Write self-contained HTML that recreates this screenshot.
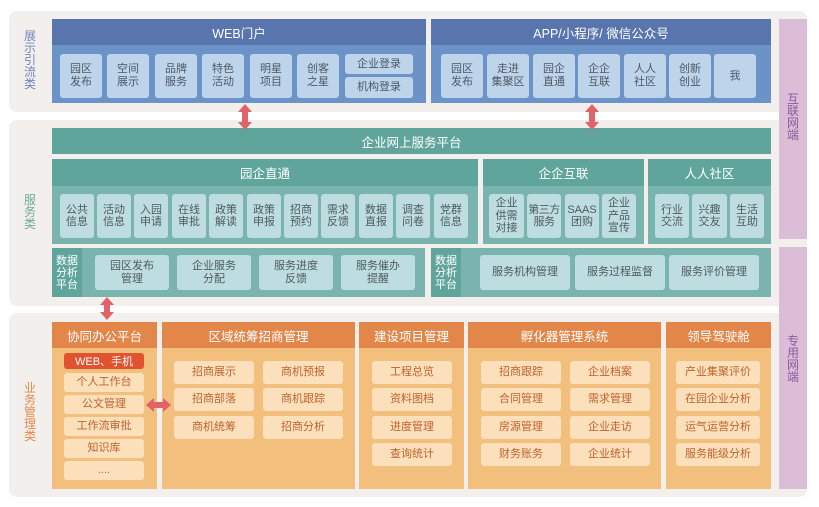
<!DOCTYPE html>
<html><head><meta charset="utf-8">
<style>
*{margin:0;padding:0;box-sizing:border-box}
html,body{width:819px;height:507px;background:#fff;overflow:hidden;font-family:"Liberation Sans","Noto Sans CJK SC",sans-serif}
.a{position:absolute}
.c{display:flex;align-items:center;justify-content:center;text-align:center}
.pn{background:#f2efec;border-radius:8px}
.bh{background:#5975ad;color:#fff;font-size:12.5px}
.bb{background:#6b93c7}
.bi{background:#bdd4ea;border-radius:3px;color:#4e5866;font-size:11px;line-height:13px}
.th{background:#5fa59b;color:#fff;font-size:12.5px}
.tb{background:#7ab4ae}
.ti{background:#bedde0;border-radius:3px;color:#4d5a5e;font-size:11px;line-height:12.5px}
.oh{background:#e2864a;color:#fff;font-size:12.5px}
.ob{background:#f2bf7d}
.oi{background:#fbe0bb;border-radius:3px;color:#c0622f;font-size:11px;line-height:13px}
.vl{width:16px;font-size:12px;line-height:12px;text-align:center}
.pu{background:#dcbdd7}
</style></head><body>

<!-- panels -->
<div class="a pn" style="left:9px;top:11px;width:798px;height:101px"></div>
<div class="a pn" style="left:9px;top:120px;width:798px;height:186px"></div>
<div class="a pn" style="left:9px;top:313px;width:798px;height:184px"></div>

<!-- purple bars -->
<div class="a pu" style="left:779px;top:19px;width:28px;height:220px"></div>
<div class="a pu" style="left:779px;top:247px;width:28px;height:242px"></div>
<div class="a vl" style="left:785px;top:93px;color:#8a5c98">互<br>联<br>网<br>端</div>
<div class="a vl" style="left:785px;top:335px;color:#8a5c98">专<br>用<br>网<br>端</div>

<!-- left labels -->
<div class="a vl" style="left:22px;top:30px;color:#7186bd">展<br>示<br>引<br>流<br>类</div>
<div class="a vl" style="left:22px;top:194px;color:#6aae9b">服<br>务<br>类</div>
<div class="a vl" style="left:22px;top:382px;color:#e5894a">业<br>务<br>管<br>理<br>类</div>

<!-- WEB portal -->
<div class="a bb" style="left:52px;top:19px;width:374px;height:84px"></div>
<div class="a bh c" style="left:52px;top:19px;width:374px;height:26px">WEB门户</div>
<div class="a bi c" style="left:60px;top:54px;width:42px;height:44px">园区<br>发布</div>
<div class="a bi c" style="left:107px;top:54px;width:42px;height:44px">空间<br>展示</div>
<div class="a bi c" style="left:155px;top:54px;width:42px;height:44px">品牌<br>服务</div>
<div class="a bi c" style="left:202px;top:54px;width:42px;height:44px">特色<br>活动</div>
<div class="a bi c" style="left:250px;top:54px;width:42px;height:44px">明星<br>项目</div>
<div class="a bi c" style="left:297px;top:54px;width:42px;height:44px">创客<br>之星</div>
<div class="a bi c" style="left:345px;top:54px;width:68px;height:20px">企业登录</div>
<div class="a bi c" style="left:345px;top:77px;width:68px;height:21px">机构登录</div>

<!-- APP -->
<div class="a bb" style="left:431px;top:19px;width:340px;height:84px"></div>
<div class="a bh c" style="left:431px;top:19px;width:340px;height:26px">APP/小程序/ 微信公众号</div>
<div class="a bi c" style="left:441px;top:54px;width:42px;height:44px">园区<br>发布</div>
<div class="a bi c" style="left:487px;top:54px;width:42px;height:44px">走进<br>集聚区</div>
<div class="a bi c" style="left:533px;top:54px;width:42px;height:44px">园企<br>直通</div>
<div class="a bi c" style="left:578px;top:54px;width:42px;height:44px">企企<br>互联</div>
<div class="a bi c" style="left:624px;top:54px;width:42px;height:44px">人人<br>社区</div>
<div class="a bi c" style="left:669px;top:54px;width:42px;height:44px">创新<br>创业</div>
<div class="a bi c" style="left:714px;top:54px;width:42px;height:44px">我</div>

<!-- platform -->
<div class="a th c" style="left:52px;top:128px;width:719px;height:26px">企业网上服务平台</div>

<!-- 园企直通 -->
<div class="a tb" style="left:52px;top:159px;width:426px;height:85px"></div>
<div class="a th c" style="left:52px;top:159px;width:426px;height:27px">园企直通</div>
<div class="a ti c" style="left:60px;top:194px;width:34px;height:44px">公共<br>信息</div>
<div class="a ti c" style="left:97px;top:194px;width:34px;height:44px">活动<br>信息</div>
<div class="a ti c" style="left:134px;top:194px;width:34px;height:44px">入园<br>申请</div>
<div class="a ti c" style="left:172px;top:194px;width:34px;height:44px">在线<br>审批</div>
<div class="a ti c" style="left:209px;top:194px;width:34px;height:44px">政策<br>解读</div>
<div class="a ti c" style="left:247px;top:194px;width:34px;height:44px">政策<br>申报</div>
<div class="a ti c" style="left:284px;top:194px;width:34px;height:44px">招商<br>预约</div>
<div class="a ti c" style="left:321px;top:194px;width:34px;height:44px">需求<br>反馈</div>
<div class="a ti c" style="left:359px;top:194px;width:34px;height:44px">数据<br>直报</div>
<div class="a ti c" style="left:396px;top:194px;width:34px;height:44px">调查<br>问卷</div>
<div class="a ti c" style="left:434px;top:194px;width:34px;height:44px">党群<br>信息</div>

<!-- 企企互联 -->
<div class="a tb" style="left:483px;top:159px;width:161px;height:85px"></div>
<div class="a th c" style="left:483px;top:159px;width:161px;height:27px">企企互联</div>
<div class="a ti c" style="left:489px;top:194px;width:35px;height:44px">企业<br>供需<br>对接</div>
<div class="a ti c" style="left:527px;top:194px;width:34px;height:44px;letter-spacing:-0.5px">第三方<br>服务</div>
<div class="a ti c" style="left:565px;top:194px;width:34px;height:44px">SAAS<br>团购</div>
<div class="a ti c" style="left:602px;top:194px;width:34px;height:44px">企业<br>产品<br>宣传</div>

<!-- 人人社区 -->
<div class="a tb" style="left:648px;top:159px;width:123px;height:85px"></div>
<div class="a th c" style="left:648px;top:159px;width:123px;height:27px">人人社区</div>
<div class="a ti c" style="left:655px;top:194px;width:34px;height:44px">行业<br>交流</div>
<div class="a ti c" style="left:692px;top:194px;width:35px;height:44px">兴趣<br>交友</div>
<div class="a ti c" style="left:730px;top:194px;width:34px;height:44px">生活<br>互助</div>

<!-- data rows -->
<div class="a tb" style="left:52px;top:248px;width:373px;height:49px"></div>
<div class="a th c" style="left:52px;top:248px;width:30px;height:49px;font-size:11px;line-height:12px">数据<br>分析<br>平台</div>
<div class="a ti c" style="left:95px;top:255px;width:74px;height:35px">园区发布<br>管理</div>
<div class="a ti c" style="left:177px;top:255px;width:74px;height:35px">企业服务<br>分配</div>
<div class="a ti c" style="left:259px;top:255px;width:74px;height:35px">服务进度<br>反馈</div>
<div class="a ti c" style="left:341px;top:255px;width:74px;height:35px">服务催办<br>提醒</div>

<div class="a tb" style="left:431px;top:248px;width:340px;height:49px"></div>
<div class="a th c" style="left:431px;top:248px;width:30px;height:49px;font-size:11px;line-height:12px">数据<br>分析<br>平台</div>
<div class="a ti c" style="left:480px;top:255px;width:90px;height:35px">服务机构管理</div>
<div class="a ti c" style="left:575px;top:255px;width:90px;height:35px">服务过程监督</div>
<div class="a ti c" style="left:669px;top:255px;width:90px;height:35px">服务评价管理</div>

<!-- orange sections -->
<div class="a ob" style="left:52px;top:322px;width:105px;height:167px"></div>
<div class="a oh c" style="left:52px;top:322px;width:105px;height:26px">协同办公平台</div>
<div class="a c" style="left:64px;top:353px;width:80px;height:16px;background:#e1532f;color:#fff;border-radius:3px;font-size:11px">WEB、手机</div>
<div class="a oi c" style="left:64px;top:373px;width:80px;height:19px">个人工作台</div>
<div class="a oi c" style="left:64px;top:395px;width:80px;height:19px">公文管理</div>
<div class="a oi c" style="left:64px;top:417px;width:80px;height:19px">工作流审批</div>
<div class="a oi c" style="left:64px;top:439px;width:80px;height:19px">知识库</div>
<div class="a oi c" style="left:64px;top:461px;width:80px;height:19px">....</div>

<div class="a ob" style="left:162px;top:322px;width:193px;height:167px"></div>
<div class="a oh c" style="left:162px;top:322px;width:193px;height:26px">区域统筹招商管理</div>
<div class="a oi c" style="left:174px;top:361px;width:80px;height:23px">招商展示</div>
<div class="a oi c" style="left:263px;top:361px;width:80px;height:23px">商机预报</div>
<div class="a oi c" style="left:174px;top:388px;width:80px;height:23px">招商部落</div>
<div class="a oi c" style="left:263px;top:388px;width:80px;height:23px">商机跟踪</div>
<div class="a oi c" style="left:174px;top:416px;width:80px;height:23px">商机统筹</div>
<div class="a oi c" style="left:263px;top:416px;width:80px;height:23px">招商分析</div>

<div class="a ob" style="left:359px;top:322px;width:105px;height:167px"></div>
<div class="a oh c" style="left:359px;top:322px;width:105px;height:26px">建设项目管理</div>
<div class="a oi c" style="left:372px;top:361px;width:80px;height:23px">工程总览</div>
<div class="a oi c" style="left:372px;top:388px;width:80px;height:23px">资料图档</div>
<div class="a oi c" style="left:372px;top:416px;width:80px;height:23px">进度管理</div>
<div class="a oi c" style="left:372px;top:443px;width:80px;height:23px">查询统计</div>

<div class="a ob" style="left:468px;top:322px;width:193px;height:167px"></div>
<div class="a oh c" style="left:468px;top:322px;width:193px;height:26px">孵化器管理系统</div>
<div class="a oi c" style="left:481px;top:361px;width:80px;height:23px">招商跟踪</div>
<div class="a oi c" style="left:570px;top:361px;width:80px;height:23px">企业档案</div>
<div class="a oi c" style="left:481px;top:388px;width:80px;height:23px">合同管理</div>
<div class="a oi c" style="left:570px;top:388px;width:80px;height:23px">需求管理</div>
<div class="a oi c" style="left:481px;top:416px;width:80px;height:23px">房源管理</div>
<div class="a oi c" style="left:570px;top:416px;width:80px;height:23px">企业走访</div>
<div class="a oi c" style="left:481px;top:443px;width:80px;height:23px">财务账务</div>
<div class="a oi c" style="left:570px;top:443px;width:80px;height:23px">企业统计</div>

<div class="a ob" style="left:666px;top:322px;width:105px;height:167px"></div>
<div class="a oh c" style="left:666px;top:322px;width:105px;height:26px">领导驾驶舱</div>
<div class="a oi c" style="left:676px;top:361px;width:84px;height:23px">产业集聚评价</div>
<div class="a oi c" style="left:676px;top:388px;width:84px;height:23px">在园企业分析</div>
<div class="a oi c" style="left:676px;top:416px;width:84px;height:23px">运气运营分析</div>
<div class="a oi c" style="left:676px;top:443px;width:84px;height:23px">服务能级分析</div>

<!-- arrows -->
<svg class="a" style="left:0;top:0" width="819" height="507" viewBox="0 0 819 507">
  <g fill="#e0636a">
    <polygon points="245,104 252,112 248,112 248,122 252,122 245,130 238,122 242,122 242,112 238,112"/>
    <polygon points="592,104 599,112 595,112 595,122 599,122 592,130 585,122 589,122 589,112 585,112"/>
    <polygon points="107,297 114,305 110,305 110,312 114,312 107,320 100,312 104,312 104,305 100,305"/>
    <polygon points="146,405 154,398 154,402 163,402 163,398 171,405 163,412 163,408 154,408 154,412"/>
  </g>
</svg>

</body></html>
